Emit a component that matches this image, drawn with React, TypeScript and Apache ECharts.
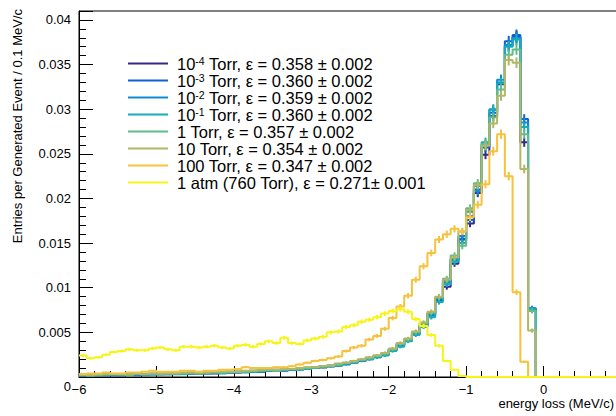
import React, { useEffect, useRef } from "react";
import * as echarts from "echarts";

// Histogram binning: 0.1 MeV/c bins starting at -6 MeV/c
const BIN_LO = -6;
const BIN_W = 0.1;
// Empty bins drawn between 0 and 1 MeV/c
const TAIL_BINS = 10;
// Generated events, used for the Poisson error bars
const N_GENERATED = 100000;

const pressureLabels = [
  "10{sup|-4} Torr",
  "10{sup|-3} Torr",
  "10{sup|-2} Torr",
  "10{sup|-1} Torr",
  "1 Torr",
  "10 Torr",
  "100 Torr",
  "1 atm (760 Torr)",
];
const pressureNames = [
  "1e-4 Torr",
  "1e-3 Torr",
  "1e-2 Torr",
  "1e-1 Torr",
  "1 Torr",
  "10 Torr",
  "100 Torr",
  "1 atm (760 Torr)",
];
const efficiencies = [
  "0.358 ± 0.002",
  "0.360 ± 0.002",
  "0.359 ± 0.002",
  "0.360 ± 0.002",
  "0.357 ± 0.002",
  "0.354 ± 0.002",
  "0.347 ± 0.002",
  "0.271± 0.001",
];
const colors = [
  "#352a87",
  "#105fdc",
  "#108bd3",
  "#17acba",
  "#61bc8a",
  "#b0b865",
  "#f6c23c",
  "#f7f41a",
];

// Entries per generated event, bins from -6.0 to 0.0 MeV/c
const torr1em4 = [
  0.0002, 0.0002, 0.0002, 0.0002, 0.0003, 0.0002, 0.0003, 0.0003, 0.0003, 0.0003,
  0.0003, 0.0003, 0.0004, 0.0004, 0.0004, 0.0004, 0.0005, 0.0004, 0.0005, 0.0005,
  0.0005, 0.0006, 0.0006, 0.0006, 0.0007, 0.0007, 0.0008, 0.0008, 0.0009, 0.001,
  0.001, 0.0011, 0.0012, 0.0013, 0.0015, 0.0017, 0.0018, 0.0021, 0.0023, 0.0026,
  0.003, 0.0036, 0.0041, 0.005, 0.0058, 0.0071, 0.0087, 0.0101, 0.0127, 0.0154,
  0.0172, 0.0206, 0.0249, 0.0292, 0.0328, 0.0371, 0.0381, 0.0263, 0.0076, 0,
];
const torr1em3 = [
  0.0001, 0.0002, 0.0002, 0.0003, 0.0002, 0.0002, 0.0003, 0.0002, 0.0003, 0.0003,
  0.0003, 0.0004, 0.0003, 0.0004, 0.0004, 0.0005, 0.0004, 0.0005, 0.0005, 0.0005,
  0.0006, 0.0006, 0.0006, 0.0007, 0.0007, 0.0008, 0.0007, 0.0008, 0.0009, 0.0009,
  0.0011, 0.0011, 0.0012, 0.0014, 0.0015, 0.0016, 0.0019, 0.002, 0.0023, 0.0025,
  0.0031, 0.0035, 0.0042, 0.0048, 0.0057, 0.0069, 0.0086, 0.0108, 0.0132, 0.0155,
  0.0176, 0.021, 0.0257, 0.0296, 0.033, 0.0376, 0.0383, 0.0289, 0.0077, 0,
];
const torr1em2 = [
  0.0002, 0.0002, 0.0003, 0.0002, 0.0002, 0.0003, 0.0003, 0.0003, 0.0002, 0.0003,
  0.0004, 0.0003, 0.0004, 0.0004, 0.0005, 0.0004, 0.0004, 0.0005, 0.0005, 0.0006,
  0.0005, 0.0006, 0.0007, 0.0006, 0.0007, 0.0007, 0.0008, 0.0009, 0.0008, 0.001,
  0.001, 0.0012, 0.0012, 0.0013, 0.0014, 0.0017, 0.0018, 0.0021, 0.0022, 0.0026,
  0.003, 0.0036, 0.0041, 0.0049, 0.0059, 0.007, 0.0088, 0.0106, 0.0131, 0.0158,
  0.018, 0.0208, 0.026, 0.03, 0.0333, 0.0372, 0.038, 0.0285, 0.0076, 0,
];
const torr1em1 = [
  0.0002, 0.0001, 0.0002, 0.0002, 0.0003, 0.0002, 0.0002, 0.0003, 0.0003, 0.0003,
  0.0003, 0.0004, 0.0004, 0.0003, 0.0004, 0.0004, 0.0005, 0.0005, 0.0004, 0.0005,
  0.0006, 0.0005, 0.0006, 0.0007, 0.0007, 0.0007, 0.0008, 0.0008, 0.0009, 0.0009,
  0.001, 0.0011, 0.0013, 0.0013, 0.0015, 0.0016, 0.0019, 0.002, 0.0022, 0.0024,
  0.0029, 0.0034, 0.004, 0.0047, 0.0056, 0.0067, 0.0084, 0.0104, 0.0129, 0.015,
  0.0185, 0.0214, 0.0263, 0.0299, 0.0329, 0.037, 0.0378, 0.028, 0.0076, 0,
];
const torr1 = [
  0.0002, 0.0002, 0.0002, 0.0003, 0.0003, 0.0003, 0.0002, 0.0003, 0.0003, 0.0004,
  0.0003, 0.0004, 0.0004, 0.0004, 0.0005, 0.0004, 0.0005, 0.0005, 0.0005, 0.0006,
  0.0006, 0.0006, 0.0007, 0.0007, 0.0008, 0.0007, 0.0008, 0.0009, 0.0009, 0.001,
  0.0011, 0.0012, 0.0012, 0.0014, 0.0016, 0.0017, 0.0019, 0.0021, 0.0024, 0.0026,
  0.0031, 0.0037, 0.0042, 0.005, 0.006, 0.0072, 0.0089, 0.011, 0.0136, 0.0147,
  0.0189, 0.0217, 0.0261, 0.0291, 0.0322, 0.0361, 0.0367, 0.0272, 0.0074, 0,
];
const torr10 = [
  0.0003, 0.0002, 0.0003, 0.0003, 0.0003, 0.0003, 0.0003, 0.0004, 0.0003, 0.0004,
  0.0004, 0.0004, 0.0004, 0.0005, 0.0005, 0.0005, 0.0005, 0.0006, 0.0006, 0.0006,
  0.0006, 0.0007, 0.0007, 0.0008, 0.0008, 0.0008, 0.0009, 0.0009, 0.001, 0.0011,
  0.0011, 0.0012, 0.0013, 0.0015, 0.0016, 0.0018, 0.002, 0.0022, 0.0024, 0.0027,
  0.0032, 0.0038, 0.0043, 0.0051, 0.0061, 0.0073, 0.009, 0.0109, 0.0134, 0.0163,
  0.0187, 0.0215, 0.0259, 0.0284, 0.0315, 0.0355, 0.0352, 0.0233, 0.0052, 0,
];
const torr100 = [
  0.0003, 0.0004, 0.0004, 0.0005, 0.0004, 0.0004, 0.0005, 0.0005, 0.0006, 0.0007,
  0.0006, 0.0006, 0.0006, 0.0007, 0.0007, 0.0006, 0.0007, 0.0007, 0.0008, 0.0008,
  0.0009, 0.0011, 0.001, 0.001, 0.001, 0.0011, 0.0011, 0.0012, 0.0014, 0.0016,
  0.0018, 0.0019, 0.0021, 0.0023, 0.0029, 0.0033, 0.0035, 0.0042, 0.0046, 0.0054,
  0.0066, 0.0079, 0.0091, 0.0109, 0.0124, 0.0139, 0.0154, 0.016, 0.0166, 0.0163,
  0.0179, 0.0193, 0.0216, 0.0253, 0.0272, 0.0225, 0.0095, 0.0017, 0, 0,
];
const atm1 = [
  0.0024, 0.0021, 0.0022, 0.0025, 0.0028, 0.0029, 0.0031, 0.003, 0.003, 0.0032,
  0.0033, 0.0031, 0.003, 0.0034, 0.0034, 0.0033, 0.0034, 0.0035, 0.0033, 0.0032,
  0.0035, 0.0036, 0.0034, 0.0037, 0.004, 0.0038, 0.0044, 0.0038, 0.0037, 0.0041,
  0.0043, 0.0045, 0.005, 0.0051, 0.0056, 0.0058, 0.0062, 0.0064, 0.0067, 0.0071,
  0.0074, 0.0076, 0.0073, 0.0065, 0.0057, 0.0047, 0.0035, 0.0018, 0.0008, 0.0001,
  0, 0, 0, 0, 0, 0, 0, 0, 0, 0,
];

const histograms = [torr1em4, torr1em3, torr1em2, torr1em1, torr1, torr10, torr100, atm1];

const FONT = "'Liberation Sans', Arial, Helvetica, sans-serif";

const edge = (i: number) => Math.round((BIN_LO + i * BIN_W) * 10) / 10;

function withTail(vals: number[]) {
  return vals.concat(new Array(TAIL_BINS).fill(0));
}

function stepPoints(vals: number[]) {
  const all = withTail(vals);
  const pts = all.map((v, i) => [edge(i), v]);
  pts.push([edge(all.length), all[all.length - 1]]);
  return pts;
}

function errorPoints(vals: number[]) {
  const pts: number[][] = [];
  vals.forEach((v, i) => {
    if (v > 0) {
      pts.push([edge(i) + BIN_W / 2, v, Math.sqrt(v / N_GENERATED)]);
    }
  });
  return pts;
}

function fmtY(v: number) {
  if (v === 0) return "{zero|0}";
  return String(+v.toFixed(3));
}

function fmtX(v: number) {
  if (v > 0) return "";
  if (v < 0) return "\u2212" + Math.abs(v);
  return "0";
}

export default function App() {
  const ref = useRef<HTMLDivElement>(null);

  useEffect(() => {
    if (!ref.current) return;
    const chart = echarts.init(ref.current, undefined, { renderer: "svg" });

    const lineSeries = histograms.map((vals, k) => ({
      name: pressureNames[k],
      type: "line",
      step: "end",
      data: stepPoints(vals),
      showSymbol: false,
      symbol: "none",
      lineStyle: { color: colors[k], width: 2 },
      itemStyle: { color: colors[k] },
      z: 3 + k,
    }));

    const errSeries = histograms.map((vals, k) => ({
      name: pressureNames[k] + " errors",
      type: "custom",
      data: errorPoints(vals),
      encode: { x: 0, y: 1 },
      z: 3 + k,
      renderItem: (_params: any, api: any) => {
        const x = api.value(0);
        const y = api.value(1);
        const e = api.value(2);
        const lo = api.coord([x, y - e]);
        const hi = api.coord([x, y + e]);
        return {
          type: "line",
          shape: { x1: lo[0], y1: lo[1], x2: hi[0], y2: hi[1] },
          style: { stroke: colors[k], lineWidth: 2 },
        };
      },
    }));

    const legendText: Record<string, string> = {};
    pressureNames.forEach((n, k) => {
      legendText[n] = "{gap|}" + pressureLabels[k] + ", ε = " + efficiencies[k];
    });

    chart.setOption({
      animation: false,
      backgroundColor: "#ffffff",
      textStyle: { fontFamily: FONT },
      grid: {
        left: 79,
        right: -5,
        top: 11,
        bottom: 39,
        outerBoundsMode: "none",
        show: true,
        borderColor: "#000",
        borderWidth: 1,
      },
      legend: {
        data: pressureNames,
        orient: "vertical",
        left: 128,
        top: 55,
        padding: 0,
        itemGap: 0,
        itemWidth: 40,
        itemHeight: 2,
        icon: "rect",
        selectedMode: false,
        formatter: (name: string) => legendText[name],
        textStyle: {
          fontFamily: FONT,
          fontSize: 16.5,
          color: "#000",
          lineHeight: 17,
          rich: {
            sup: { fontSize: 10.5, verticalAlign: "top", lineHeight: 15, fontFamily: FONT },
            gap: { width: 4 },
          },
        },
      },
      xAxis: {
        type: "value",
        min: -6,
        max: 1,
        interval: 1,
        axisLine: { show: true, onZero: false, lineStyle: { color: "#000", width: 1 } },
        axisTick: { show: true, inside: true, length: 11, lineStyle: { color: "#000" } },
        minorTick: { show: true, splitNumber: 5, length: 6, lineStyle: { color: "#000" } },
        splitLine: { show: false },
        axisLabel: {
          formatter: fmtX,
          fontSize: 13,
          color: "#000",
          margin: 6,
          fontFamily: FONT,
          showMaxLabel: true,
        },
      },
      yAxis: {
        type: "value",
        min: 0,
        max: 0.041,
        interval: 0.005,
        axisLine: { show: true, onZero: false, lineStyle: { color: "#000", width: 1 } },
        axisTick: { show: true, inside: true, length: 14, lineStyle: { color: "#000" } },
        minorTick: { show: true, splitNumber: 5, length: 7, lineStyle: { color: "#000" } },
        splitLine: { show: false },
        axisLabel: {
          formatter: fmtY,
          fontSize: 13,
          color: "#000",
          margin: 8,
          fontFamily: FONT,
          showMaxLabel: false,
          rich: { zero: { fontSize: 13, padding: [18, 0, 0, 0], fontFamily: FONT } },
        },
      },
      graphic: [
        {
          type: "text",
          x: 17,
          y: 9,
          rotation: Math.PI / 2,
          style: {
            text: "Entries per Generated Event / 0.1 MeV/c",
            fontSize: 13,
            fontFamily: FONT,
            fill: "#000",
            align: "right",
            verticalAlign: "middle",
          },
        },
        {
          type: "text",
          x: 614,
          y: 403,
          style: {
            text: "energy loss (MeV/c)",
            fontSize: 13,
            fontFamily: FONT,
            fill: "#000",
            align: "right",
            verticalAlign: "middle",
          },
        },
      ],
      series: [...lineSeries, ...errSeries],
    });

    return () => chart.dispose();
  }, []);

  return (
    <div
      ref={ref}
      style={{ position: "fixed", left: 0, top: 0, width: 616, height: 416, background: "#fff" }}
    />
  );
}
